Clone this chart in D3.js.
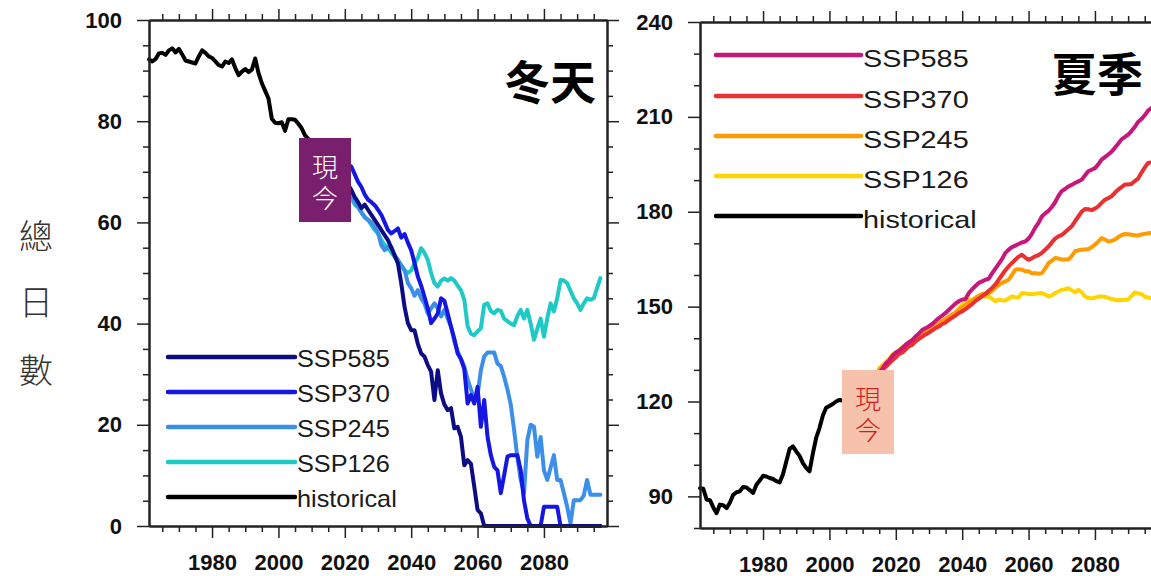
<!DOCTYPE html>
<html><head><meta charset="utf-8">
<script src="https://cdn.jsdelivr.net/npm/d3@7"></script>
<style>
html,body{margin:0;padding:0;background:#fff;}
svg{display:block;}
</style></head>
<body>
<svg id="chart" width="1151" height="576"></svg>
<script>
// ---------- DATA ----------
const histStart = 1961;   // historical years 1961..2014
const scenStart = 2015;   // scenario years 2015..2097

const winterHistorical = [92.2,91.8,92.3,93.4,93.5,93.1,94,94.4,93.6,94.3,93.2,92,91.8,91.6,91.4,92.8,94,93.5,92.8,92.5,91.8,91.1,90.8,91.8,91.5,92.2,90.5,89.1,89.8,90.3,89.7,90.2,92.4,89.5,87.5,86,84.5,80.5,79.7,79.6,79.8,78.1,80.4,80.4,80.3,79.5,78.6,77.2,76.5,75.5,75,74.5,73.8,73.2];
const winterSSP126 = [73,72,71,70,68.5,67,66,64.8,63.5,63,62,61.1,60.5,59.5,58.5,57.8,56.5,55.5,55,54,53.2,52.5,51.5,50.5,50,50.5,51.9,53,54.9,54,52.6,50,48,47.3,48.5,48.9,48.5,49,48.5,47.5,46.6,44.7,39.5,38,37.7,38.5,39.1,43.7,44,42.5,42,42.7,42.5,41,40.5,40,39.7,41.5,42.7,41,42.7,40,36.8,39,41,37.4,41,44,42.4,45,48.6,48.5,48,46.5,45,44,42.7,44,45,44.7,45,47,49];
const winterSSP245 = [73,72,71,70,69,67.5,66.5,65.2,64,63,62,61,60.5,60,59,58,55.5,54.5,55,55.2,53.5,52.6,51.5,50.6,48,47,45.5,46.6,45,44,42,43,44,43,41.4,42.7,41,39.4,36.5,34.5,33,31.5,29,27,25,26,30.8,33.5,34.3,34.3,34.3,32.1,31.6,29.5,27,24,19,13.5,9.1,6.5,17,20,19.6,13.7,17.6,11,9.1,11.5,14,9.1,9.1,6.5,3.8,0.5,5.1,5.1,5.1,6,9.1,6.2,6.2,6.2,6.2];
const winterSSP370 = [74,73.5,73,72.5,72,71.8,71.5,71,69.5,68,67,65.5,64.5,64,63.4,62.5,61.5,60,58.5,57.8,58.3,58.8,57,57.7,56,54.5,52,49.3,47.5,45.3,43,40.1,41,42,45,44.5,42,39.4,37,34.1,33,31,24.2,25.9,24.2,27.5,19.6,24.9,17.6,14,11.7,11,6.5,10,13.7,14,14,14,11,5,1.5,0,0,0,0,3.8,3.8,3.8,3.8,3.8,0,0,0,0,0,0,0,0,0,0,0,0,0];
const winterSSP585 = [73,72,71,70,69,68,67.5,66.4,65,64,62.8,63.5,62.5,61.5,60.5,59.5,58.5,57.5,56.5,55,53.5,51.9,48,43.3,40.1,38.7,38.7,36,34.1,33.5,31.8,30.5,24.9,30.8,26.2,24,22.9,23.3,19.3,19.6,17.6,12,13,12.3,7.8,3.2,2.5,0,0,0,0,0,0,0,0,0,0,0,0,0,0,0,0,0,0,0,0,0,0,0,0,0,0,0,0,0,0,0,0,0,0,0,0];

const summerHistorical = [92.6,92.4,89,88.8,86.5,84.7,87.4,87.2,86.3,88,90.5,91.3,91.6,93,92.8,92,91.1,93.7,95,96.5,96.3,95.8,95.5,94.8,94.4,97,101,105,105.8,104.2,102.8,100.5,99,97.9,103.5,108.5,111.6,115.5,118,118.6,119.2,120,120.5,120.3,121,122,123,124,125,125.8,126.5,127.3,128,128.7];
const summerSSP126 = [130.5,131.5,132.5,133.5,134.8,135.5,136.3,137,138,138.8,139.5,140.3,141,141.8,142.5,143,143.5,144,144.5,145.2,145.8,146.5,147,148,149.5,150.5,151.2,152,152.2,152.2,152.6,153.2,153.3,153.2,152.5,151.7,152.2,152,151.9,152.6,153.2,153,152.9,154.3,154.2,154,154,154.1,154.2,154.3,153.8,153.2,153.5,154.3,154.8,155.3,155.5,155.8,155.2,154.5,155.3,154.5,153.2,152.8,152.6,152.8,153.2,153.2,153.1,152.8,152.4,152.2,152,152.1,152.2,152.2,153.3,154.5,154.2,154,153.2,152.9,152.7];
const summerSSP245 = [130,131,132,133.2,134.2,135,136,137,137.8,138.5,139.3,140,140.8,141.5,142,142.8,143.5,144.2,144.8,145.5,146.2,146.8,147.5,148.2,149,149.8,150.5,151.3,152,152.8,153.5,154,154.2,154.3,155,156,156.8,157.5,158,158.5,160,161.7,161.8,161.7,161.2,161.2,160.5,160.6,160.4,160.6,162,163.8,164.5,165.4,165.2,164.9,164.9,164.9,166,167.5,167.8,168,168.1,168.2,168.8,169.6,170.5,171.7,171.2,170.6,170.8,171.2,172,172.6,173,172.9,172.7,172.6,172.5,172.8,173,173.2,173.3];
const summerSSP370 = [129,130,131,132,133,134,135,135.5,136.5,137.5,138,139,139.8,140.5,141.2,141.8,142.5,143.2,143.7,144.5,145,145.8,146.5,147.2,148,148.5,149.2,150,150.8,151.8,152.5,153.3,154,155,155.9,157,158.5,160,161.5,162.7,163.8,164.8,165.8,166.4,165.5,164.8,165.3,165.9,166.3,167,168,169,170.3,171.5,172.2,172.7,173.5,174.5,175.4,177,178.5,180,180.9,180.8,180.5,181,181.7,182.8,183.8,184.3,184.9,186,187,187.8,188.6,188.6,188.8,189.7,190.5,192.3,194,195.4,195.6];
const summerSSP585 = [129,130.5,132,133,134.5,135.5,136,137,138,138.8,139.5,140.6,141.5,142.7,143.2,143.8,144.5,145.5,146.4,147.2,148,149,150,151,151.7,152.2,152.4,154.3,155.5,156.5,157.5,158,158.5,158.8,160.5,162,163.5,165,167,168,168.8,169.3,169.8,170.3,170.6,171.5,173,175,176.5,178.5,179.5,180.3,181.5,183,185,186.5,187.2,188,188.5,189.1,189.6,190.1,191.5,192.8,193.3,193.8,195,196.5,197.3,198.1,199,200.2,201.5,202.9,203.6,204.4,205.5,206.8,208.4,209.3,210.5,212,212.8];

const seriesNames = ["SSP585","SSP370","SSP245","SSP126","historical"];
const winterColors = ["#0c0c84","#1616e2","#3b8fe8","#1ec9c6","#000000"];
const summerColors = ["#c8177c","#ea3030","#ff9c00","#ffd400","#000000"];

const xMajor = [1980,2000,2020,2040,2060,2080];
const winterYMajor = [0,20,40,60,80,100];
const summerYMajor = [90,120,150,180,210,240];

// ---------- DRAW ----------
const svg = d3.select("#chart");
const toPts = (arr, start) => arr.map((v,i)=>[start+i, v]);

function panel(cfg){
  const g = svg.append("g");
  const x = d3.scaleLinear().domain([1961,2099]).range([cfg.left, cfg.left+458]);
  const y = d3.scaleLinear().domain(cfg.yDomain).range([cfg.bottom, cfg.top]);

  const line = d3.line().x(d=>x(d[0])).y(d=>y(d[1]));
  const order = [3,2,1,0]; // draw low-scenario first
  order.forEach(i=>{
    g.append("path").datum(toPts(cfg.scen[i], scenStart))
      .attr("d", line).attr("fill","none")
      .attr("stroke", cfg.colors[i]).attr("stroke-width",4)
      .attr("stroke-linejoin","round").attr("stroke-linecap","round");
  });
  g.append("path").datum(toPts(cfg.hist, histStart))
    .attr("d", line).attr("fill","none")
    .attr("stroke","#000").attr("stroke-width",4)
    .attr("stroke-linejoin","round").attr("stroke-linecap","round");

  // axes
  const xMinor = d3.range(1965,2100,5).filter(v=>!xMajor.includes(v));
  const yMinor = d3.range(cfg.yDomain[0], cfg.yDomain[1]+0.1, cfg.yMinorStep).filter(v=>!cfg.yMajor.includes(v));
  const styleAxis = sel => {
    sel.selectAll(".domain").attr("stroke","#222").attr("stroke-width",2);
    sel.selectAll(".tick line").attr("stroke","#222").attr("stroke-width",1.5);
  };
  const addAxis = (axisFn, scale, vals, size, transform, labels) => {
    const a = axisFn(scale).tickValues(vals).tickSize(size).tickSizeOuter(0);
    if(!labels) a.tickFormat("");
    else a.tickFormat(d3.format("d")).tickPadding(labels);
    const s = g.append("g").attr("transform",transform).call(a);
    styleAxis(s);
    return s;
  };
  const bT = `translate(0,${cfg.bottom})`, tT = `translate(0,${cfg.top})`;
  const lT = `translate(${cfg.left},0)`, rT = `translate(${cfg.left+458},0)`;
  addAxis(d3.axisBottom, x, xMinor, 6, bT);
  const xb = addAxis(d3.axisBottom, x, xMajor, 12, bT, 16);
  addAxis(d3.axisTop, x, xMinor, 6, tT);
  addAxis(d3.axisTop, x, xMajor, 11, tT);
  addAxis(d3.axisLeft, y, yMinor, 6, lT);
  const yl = addAxis(d3.axisLeft, y, cfg.yMajor, 12, lT, 15);
  addAxis(d3.axisRight, y, yMinor, 6, rT);
  addAxis(d3.axisRight, y, cfg.yMajor, 12, rT);
  [xb, yl].forEach(s=>s.selectAll("text")
    .attr("font-family","'Liberation Sans', Arial, sans-serif")
    .attr("font-weight","bold").attr("font-size",22).attr("fill","#111"));

  // legend
  cfg.legendY.forEach((ly,i)=>{
    g.append("line").attr("x1",cfg.legX1).attr("x2",cfg.legX2)
      .attr("y1",ly).attr("y2",ly)
      .attr("stroke",cfg.colors[i]).attr("stroke-width",4.5).attr("stroke-linecap","round");
    g.append("text")
      .attr("transform",`translate(${cfg.legX2+2},${ly+cfg.legBase}) scale(${cfg.legScale},1)`)
      .attr("font-family","'Liberation Sans', Arial, sans-serif")
      .attr("font-size",cfg.legFont).attr("fill","#1a1a1a")
      .text(seriesNames[i]);
  });

  // title
  g.append("text").attr("x",cfg.titleX).attr("y",cfg.titleY)
    .attr("text-anchor","middle").attr("dominant-baseline","central")
    .attr("font-family","'Noto Sans CJK TC','Noto Sans CJK SC',sans-serif")
    .attr("font-weight","bold").attr("font-size",46).attr("fill","#000")
    .text(cfg.title);

  // "現今" box: one vertical text
  g.append("rect").attr("x",cfg.box[0]).attr("y",cfg.box[1])
    .attr("width",52).attr("height",84).attr("fill",cfg.boxFill);
  g.append("text")
    .attr("x",cfg.box[0]+26).attr("y",cfg.box[1]+47)
    .attr("text-anchor","middle")
    .style("writing-mode","vertical-rl")
    .style("letter-spacing","5px")
    .attr("font-family","'Noto Sans CJK TC','Noto Sans CJK SC',sans-serif")
    .attr("font-weight",300).attr("font-size",26).attr("fill",cfg.boxText)
    .text("現今");
}

panel({
  left:149, top:20, bottom:526, yDomain:[0,100], yMajor:winterYMajor, yMinorStep:5,
  hist:winterHistorical, scen:[winterSSP585,winterSSP370,winterSSP245,winterSSP126],
  colors:winterColors,
  legendY:[357,392,427,462,497], legX1:168, legX2:295, legBase:9.5, legFont:23, legScale:1.1,
  title:"冬天", titleX:550, titleY:79,
  box:[299,138], boxFill:"#7a1f6e", boxText:"#ffffff"
});
panel({
  left:700, top:22, bottom:528, yDomain:[80,240], yMajor:summerYMajor, yMinorStep:10,
  hist:summerHistorical, scen:[summerSSP585,summerSSP370,summerSSP245,summerSSP126],
  colors:summerColors,
  legendY:[55,96,136,176,216], legX1:716, legX2:861, legBase:11.5, legFont:24, legScale:1.2,
  title:"夏季", titleX:1097, titleY:71,
  box:[842,370], boxFill:"#f6c2ab", boxText:"#cc1f1f"
});

// y-axis label
["總","日","數"].forEach((ch,k)=>{
  svg.append("text").attr("x",36).attr("y",[234,300,368][k])
    .attr("text-anchor","middle").attr("dominant-baseline","central")
    .attr("font-family","'Noto Sans CJK TC','Noto Sans CJK SC',sans-serif")
    .attr("font-weight",300).attr("font-size",34).attr("fill","#333")
    .text(ch);
});
</script>
</body></html>
